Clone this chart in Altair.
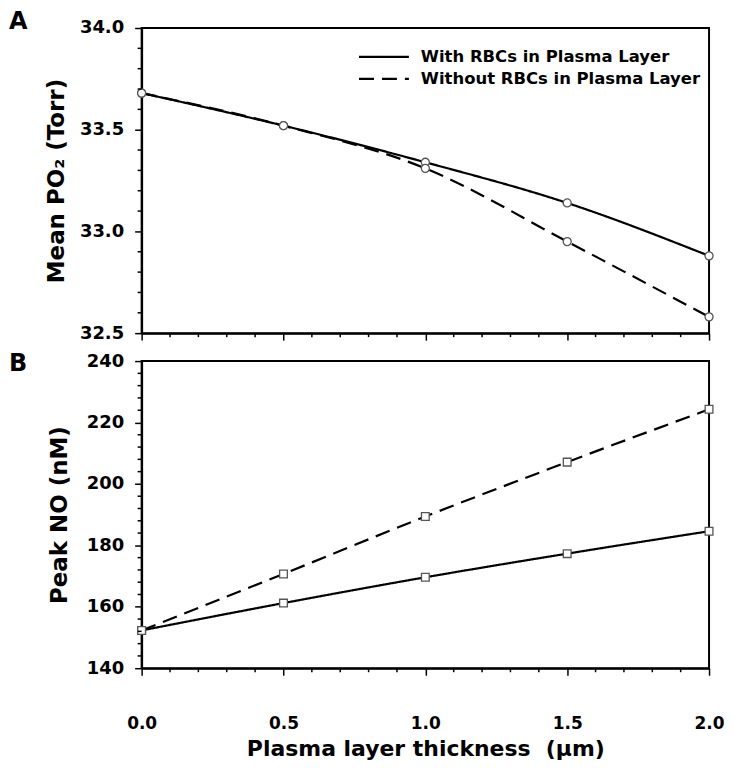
import altair as alt
import pandas as pd

# ---- data ----
thickness = [0.0, 0.5, 1.0, 1.5, 2.0]
po2_with = [33.68, 33.52, 33.34, 33.14, 32.88]
po2_without = [33.68, 33.52, 33.31, 32.95, 32.58]
no_with = [152.3, 161.2, 169.6, 177.3, 184.6]
no_without = [152.3, 170.7, 189.4, 207.1, 224.3]
series = ["With RBCs in Plasma Layer", "Without RBCs in Plasma Layer"]

x_major = [0.0, 0.5, 1.0, 1.5, 2.0]
x_minor = [0.1, 0.2, 0.3, 0.4, 0.6, 0.7, 0.8, 0.9, 1.1, 1.2, 1.3, 1.4, 1.6, 1.7, 1.8, 1.9]
po2_major = [32.5, 33.0, 33.5, 34.0]
po2_minor = [32.6, 32.7, 32.8, 32.9, 33.1, 33.2, 33.3, 33.4, 33.6, 33.7, 33.8, 33.9]
no_major = [140, 160, 180, 200, 220, 240]
no_minor = [144, 148, 152, 156, 164, 168, 172, 176, 184, 188, 192, 196,
            204, 208, 212, 216, 224, 228, 232, 236]

FONT = "DejaVu Sans"
W = 569
DASHES = [[1, 0], [15, 8]]


def long_df(a, b):
    return pd.DataFrame({
        "x": thickness + thickness,
        "y": a + b,
        "series": [series[0]] * len(a) + [series[1]] * len(b),
    })


dfA = long_df(po2_with, po2_without)
dfB = long_df(no_with, no_without)

xs = alt.Scale(domain=[0, 2], nice=False, zero=False)
ysA = alt.Scale(domain=[32.5, 34.0], nice=False, zero=False)
ysB = alt.Scale(domain=[140, 240], nice=False, zero=False)
dash_scale = alt.Scale(domain=series, range=DASHES)


def panel(df, ys, y_major, y_minor, y_title, y_fmt, title_pad, letter, letter_y,
          bottom, with_legend, marker, msize, H):
    if bottom:
        xaxis = alt.Axis(values=x_major, format=".1f", tickSize=7, labelPadding=40,
                         labelFontSize=17,
                         title="Plasma layer thickness \u00a0(\u03bcm)",
                         titleFontSize=22, titlePadding=8)
    else:
        xaxis = alt.Axis(values=x_major, labels=False, tickSize=7, title=None)
    yaxis = alt.Axis(values=y_major, format=y_fmt, tickSize=7, labelPadding=11,
                     title=y_title, titleFontSize=23, titlePadding=title_pad)

    X = alt.X("x:Q", scale=xs, axis=xaxis)
    Y = alt.Y("y:Q", scale=ys, axis=yaxis)

    lines = alt.Chart(df).mark_line(color="black", strokeWidth=2.2,
                                    interpolate="monotone").encode(
        x=X, y=Y,
        strokeDash=alt.StrokeDash("series:N", scale=dash_scale, legend=None),
    )
    pts = alt.Chart(df).mark_point(shape=marker, filled=True, fill="white",
                                   stroke="#555555", strokeWidth=1.3,
                                   size=msize, opacity=1).encode(x=X, y=Y)
    xmin = alt.Chart(pd.DataFrame({"x": x_minor})).mark_rule(
        color="black", strokeWidth=1.5).encode(
        x=X, y=alt.value(H), y2=alt.value(H + 4),
    )
    ymin = alt.Chart(pd.DataFrame({"y": y_minor})).mark_rule(
        color="black", strokeWidth=1.5).encode(
        y=Y, x=alt.value(-4), x2=alt.value(0),
    )
    lab = alt.Chart(pd.DataFrame({"t": [letter]})).mark_text(
        font=FONT, fontSize=24, fontWeight="bold", color="black",
        align="left", baseline="top").encode(
        text="t:N", x=alt.value(-133), y=alt.value(letter_y),
    )
    layers = [lines, pts, xmin, ymin, lab]
    if with_legend:
        for i, name in enumerate(series):
            ly = 29 + 22 * i
            sym = alt.Chart(pd.DataFrame({"s": [name]})).mark_rule(
                color="black", strokeWidth=2.2, strokeDash=DASHES[i]).encode(
                x=alt.value(218), x2=alt.value(268), y=alt.value(ly))
            txt = alt.Chart(pd.DataFrame({"s": [name]})).mark_text(
                font=FONT, fontSize=16.5, fontWeight="bold", color="black",
                align="left", baseline="middle").encode(
                text="s:N", x=alt.value(280), y=alt.value(ly))
            layers += [sym, txt]
    return alt.layer(*layers).properties(width=W, height=H)


A = panel(dfA, ysA, po2_major, po2_minor, "Mean PO\u2082 (Torr)", ".1f", 11,
          "A", -18, False, True, "circle", 65, 306)
B = panel(dfB, ysB, no_major, no_minor, "Peak NO (nM)", "d", 15,
          "B", -9, True, False, "square", 60, 308)

chart = alt.vconcat(A, B, spacing=8).configure_view(
    stroke="black", strokeWidth=2
).configure_axis(
    domainColor="black", domainWidth=2, tickColor="black", tickWidth=1.5,
    labelFont=FONT, labelFontSize=18, labelFontWeight="bold", labelColor="black",
    titleFont=FONT, titleFontWeight="bold", titleColor="black", grid=False,
    labelFlush=False,
).properties(padding={"left": 0, "top": 0, "right": 0, "bottom": 0})

chart.save("out.html", embed_options={"renderer": "svg", "actions": False})
